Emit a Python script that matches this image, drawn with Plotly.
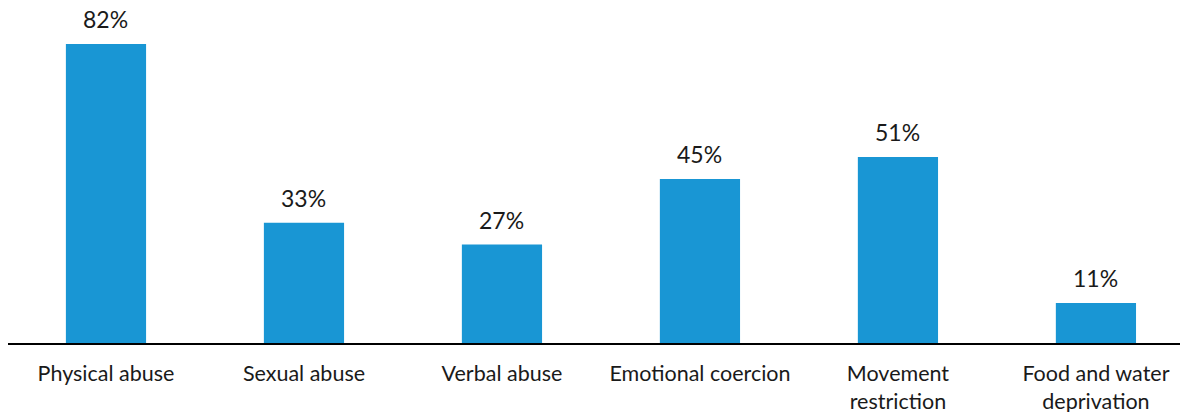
import plotly.graph_objects as go

categories = ["Physical abuse", "Sexual abuse", "Verbal abuse", "Emotional coercion",
              "Movement<br>restriction", "Food and water<br>deprivation"]
values = [82, 33, 27, 45, 51, 11]
labels = [f"{v}%" for v in values]

fig = go.Figure()
fig.add_trace(go.Bar(x=categories, y=values, marker=dict(color="#1996d4", line=dict(width=0)),
                     width=0.405, hoverinfo="skip"))
for c, v, t in zip(categories, values, labels):
    fig.add_annotation(x=c, y=v, text=t, showarrow=False, yanchor="bottom", yshift=9,
                       font=dict(family="Lato", size=23, color="#1a1a1a"))

fig.update_layout(
    width=1180, height=404,
    margin=dict(l=0, r=0, t=0, b=69),
    paper_bgcolor="white", plot_bgcolor="white",
    showlegend=False,
    font=dict(family="Lato", size=21.5, color="#1a1a1a"),
    xaxis=dict(type="category", range=[-0.4949, 5.465], showline=True, linecolor="black", linewidth=2,
               ticks="outside", ticklen=10, tickcolor="rgba(0,0,0,0)", showgrid=False,
               automargin=False,
               tickfont=dict(family="Lato", size=21.5, color="#1a1a1a")),
    yaxis=dict(range=[0, 91.88], visible=False, showgrid=False, zeroline=False, automargin=False),
)
fig.write_html("out.html")
